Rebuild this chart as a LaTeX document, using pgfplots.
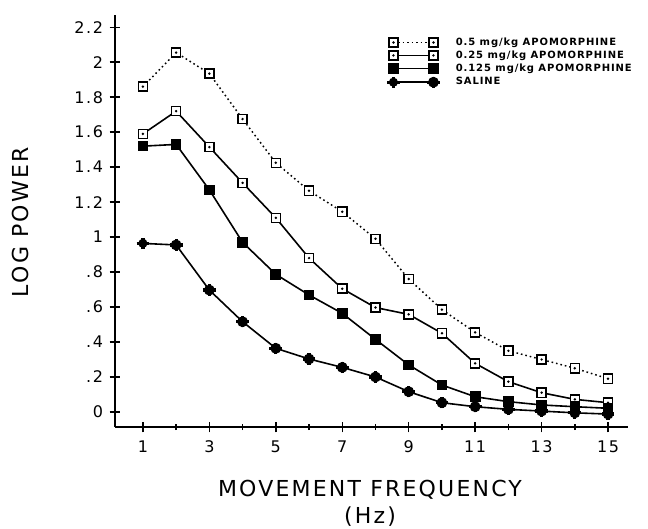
\documentclass[border=0pt]{standalone}
\usepackage{fontspec}
\setmainfont{DejaVu Sans}
\newfontfamily\plotfont{DejaVu Sans}[LetterSpace=10]
\newfontfamily\legfont{DejaVu Sans}[LetterSpace=9]
\usepackage{pgfplots}
\pgfplotsset{compat=1.18}
\makeatletter
\pgfdeclareplotmark{sqdot}{%
  \pgfpathrectangle{\pgfqpoint{-\pgfplotmarksize}{-\pgfplotmarksize}}{\pgfqpoint{2\pgfplotmarksize}{2\pgfplotmarksize}}%
  \pgfsetfillcolor{white}\pgfusepathqfillstroke
  \pgfpathcircle{\pgfpointorigin}{0.3\pgfplotmarksize}%
  \pgfsetfillcolor{black}\pgfusepathqfill}
\pgfdeclareplotmark{salmark}{%
  \pgfpathcircle{\pgfpointorigin}{0.85\pgfplotmarksize}%
  \pgfusepathqfillstroke
  \pgfsetlinewidth{2.4pt}%
  \pgfpathmoveto{\pgfqpoint{-1.45\pgfplotmarksize}{0pt}}\pgfpathlineto{\pgfqpoint{1.45\pgfplotmarksize}{0pt}}%
  \pgfpathmoveto{\pgfqpoint{0pt}{-1.3\pgfplotmarksize}}\pgfpathlineto{\pgfqpoint{0pt}{1.3\pgfplotmarksize}}%
  \pgfusepathqstroke}
\makeatother
\begin{document}
\begin{tikzpicture}
\begin{axis}[
  scale only axis,
  width=384.75pt, height=309pt,
  xmin=0.16, xmax=15.6, ymin=-0.086, ymax=2.27,
  axis lines=left,
  axis line style={-, line width=1.3pt},
  xtick={1,3,5,7,9,11,13,15},
  xticklabels={1,3,5,7,9,11,13,15},
  minor xtick={2,4,6,8,10,12,14},
  ytick={0,0.2,0.4,0.6,0.8,1,1.2,1.4,1.6,1.8,2,2.2},
  yticklabels={0,.2,.4,.6,.8,1,1.2,1.4,1.6,1.8,2,2.2},
  tick align=center,
  major tick length=8pt, minor tick length=4.5pt,
  tick style={line width=1.1pt, black},
  tick label style={font=\plotfont\fontsize{12}{14}\selectfont},
  xticklabel style={yshift=-3pt},
  yticklabel style={xshift=-1.5pt},
  xlabel={MOVEMENT FREQUENCY\\(Hz)},
  ylabel={LOG POWER},
  every axis x label/.style={at={(rel axis cs:0.497,0)}, yshift=-57pt, anchor=center, align=center, font=\plotfont\fontsize{16.5}{20.5}\selectfont},
  every axis y label/.style={at={(rel axis cs:0,0.497)}, xshift=-71pt, rotate=90, anchor=center, font=\plotfont\fontsize{16.5}{19}\selectfont},
  legend style={at={(rel axis cs:0.522,0.952)}, anchor=north west, draw=none, fill=none,
    font=\legfont\bfseries\fontsize{7.5}{9}\selectfont, row sep=2.5pt,
    nodes={inner sep=0pt, inner xsep=1pt},
    /tikz/every even column/.append style={column sep=0pt},
    /tikz/every odd column/.append style={column sep=11pt}},
  legend cell align=left,
  legend image code/.code={\draw[#1] plot coordinates {(0pt,0pt) (30pt,0pt)};},
]
\addplot[black, line width=1.1pt, dash pattern=on 1.2pt off 2.2pt, mark=sqdot, mark size=3.4pt, mark options={solid, line width=1.1pt}] coordinates {
(1,1.86)(2,2.055)(3,1.935)(4,1.675)(5,1.425)(6,1.265)(7,1.145)(8,0.99)(9,0.76)(10,0.585)(11,0.455)(12,0.35)(13,0.30)(14,0.25)(15,0.19)};
\addlegendentry{0.5 mg/kg APOMORPHINE}
\addplot[black, line width=1.2pt, mark=sqdot, mark size=3.4pt, mark options={line width=1.1pt}] coordinates {
(1,1.59)(2,1.72)(3,1.515)(4,1.31)(5,1.11)(6,0.88)(7,0.705)(8,0.597)(9,0.558)(10,0.45)(11,0.278)(12,0.173)(13,0.11)(14,0.072)(15,0.053)};
\addlegendentry{0.25 mg/kg APOMORPHINE}
\addplot[black, line width=1.2pt, mark=square*, mark size=3.4pt] coordinates {
(1,1.52)(2,1.53)(3,1.27)(4,0.97)(5,0.787)(6,0.669)(7,0.564)(8,0.415)(9,0.269)(10,0.154)(11,0.087)(12,0.059)(13,0.04)(14,0.03)(15,0.021)};
\addlegendentry{0.125 mg/kg APOMORPHINE}
\addplot[black, line width=1.2pt, mark=salmark, mark size=3.3pt] coordinates {
(1,0.964)(2,0.955)(3,0.697)(4,0.516)(5,0.364)(6,0.303)(7,0.255)(8,0.2)(9,0.116)(10,0.053)(11,0.03)(12,0.015)(13,0.005)(14,-0.005)(15,-0.012)};
\addlegendentry{SALINE}
\coordinate (sw) at (rel axis cs:0,0);
\end{axis}
\pgfresetboundingbox
\path ([shift={(-86.25pt,-75.75pt)}]sw) rectangle ([shift={(399.75pt,320.25pt)}]sw);
\end{tikzpicture}
\end{document}
